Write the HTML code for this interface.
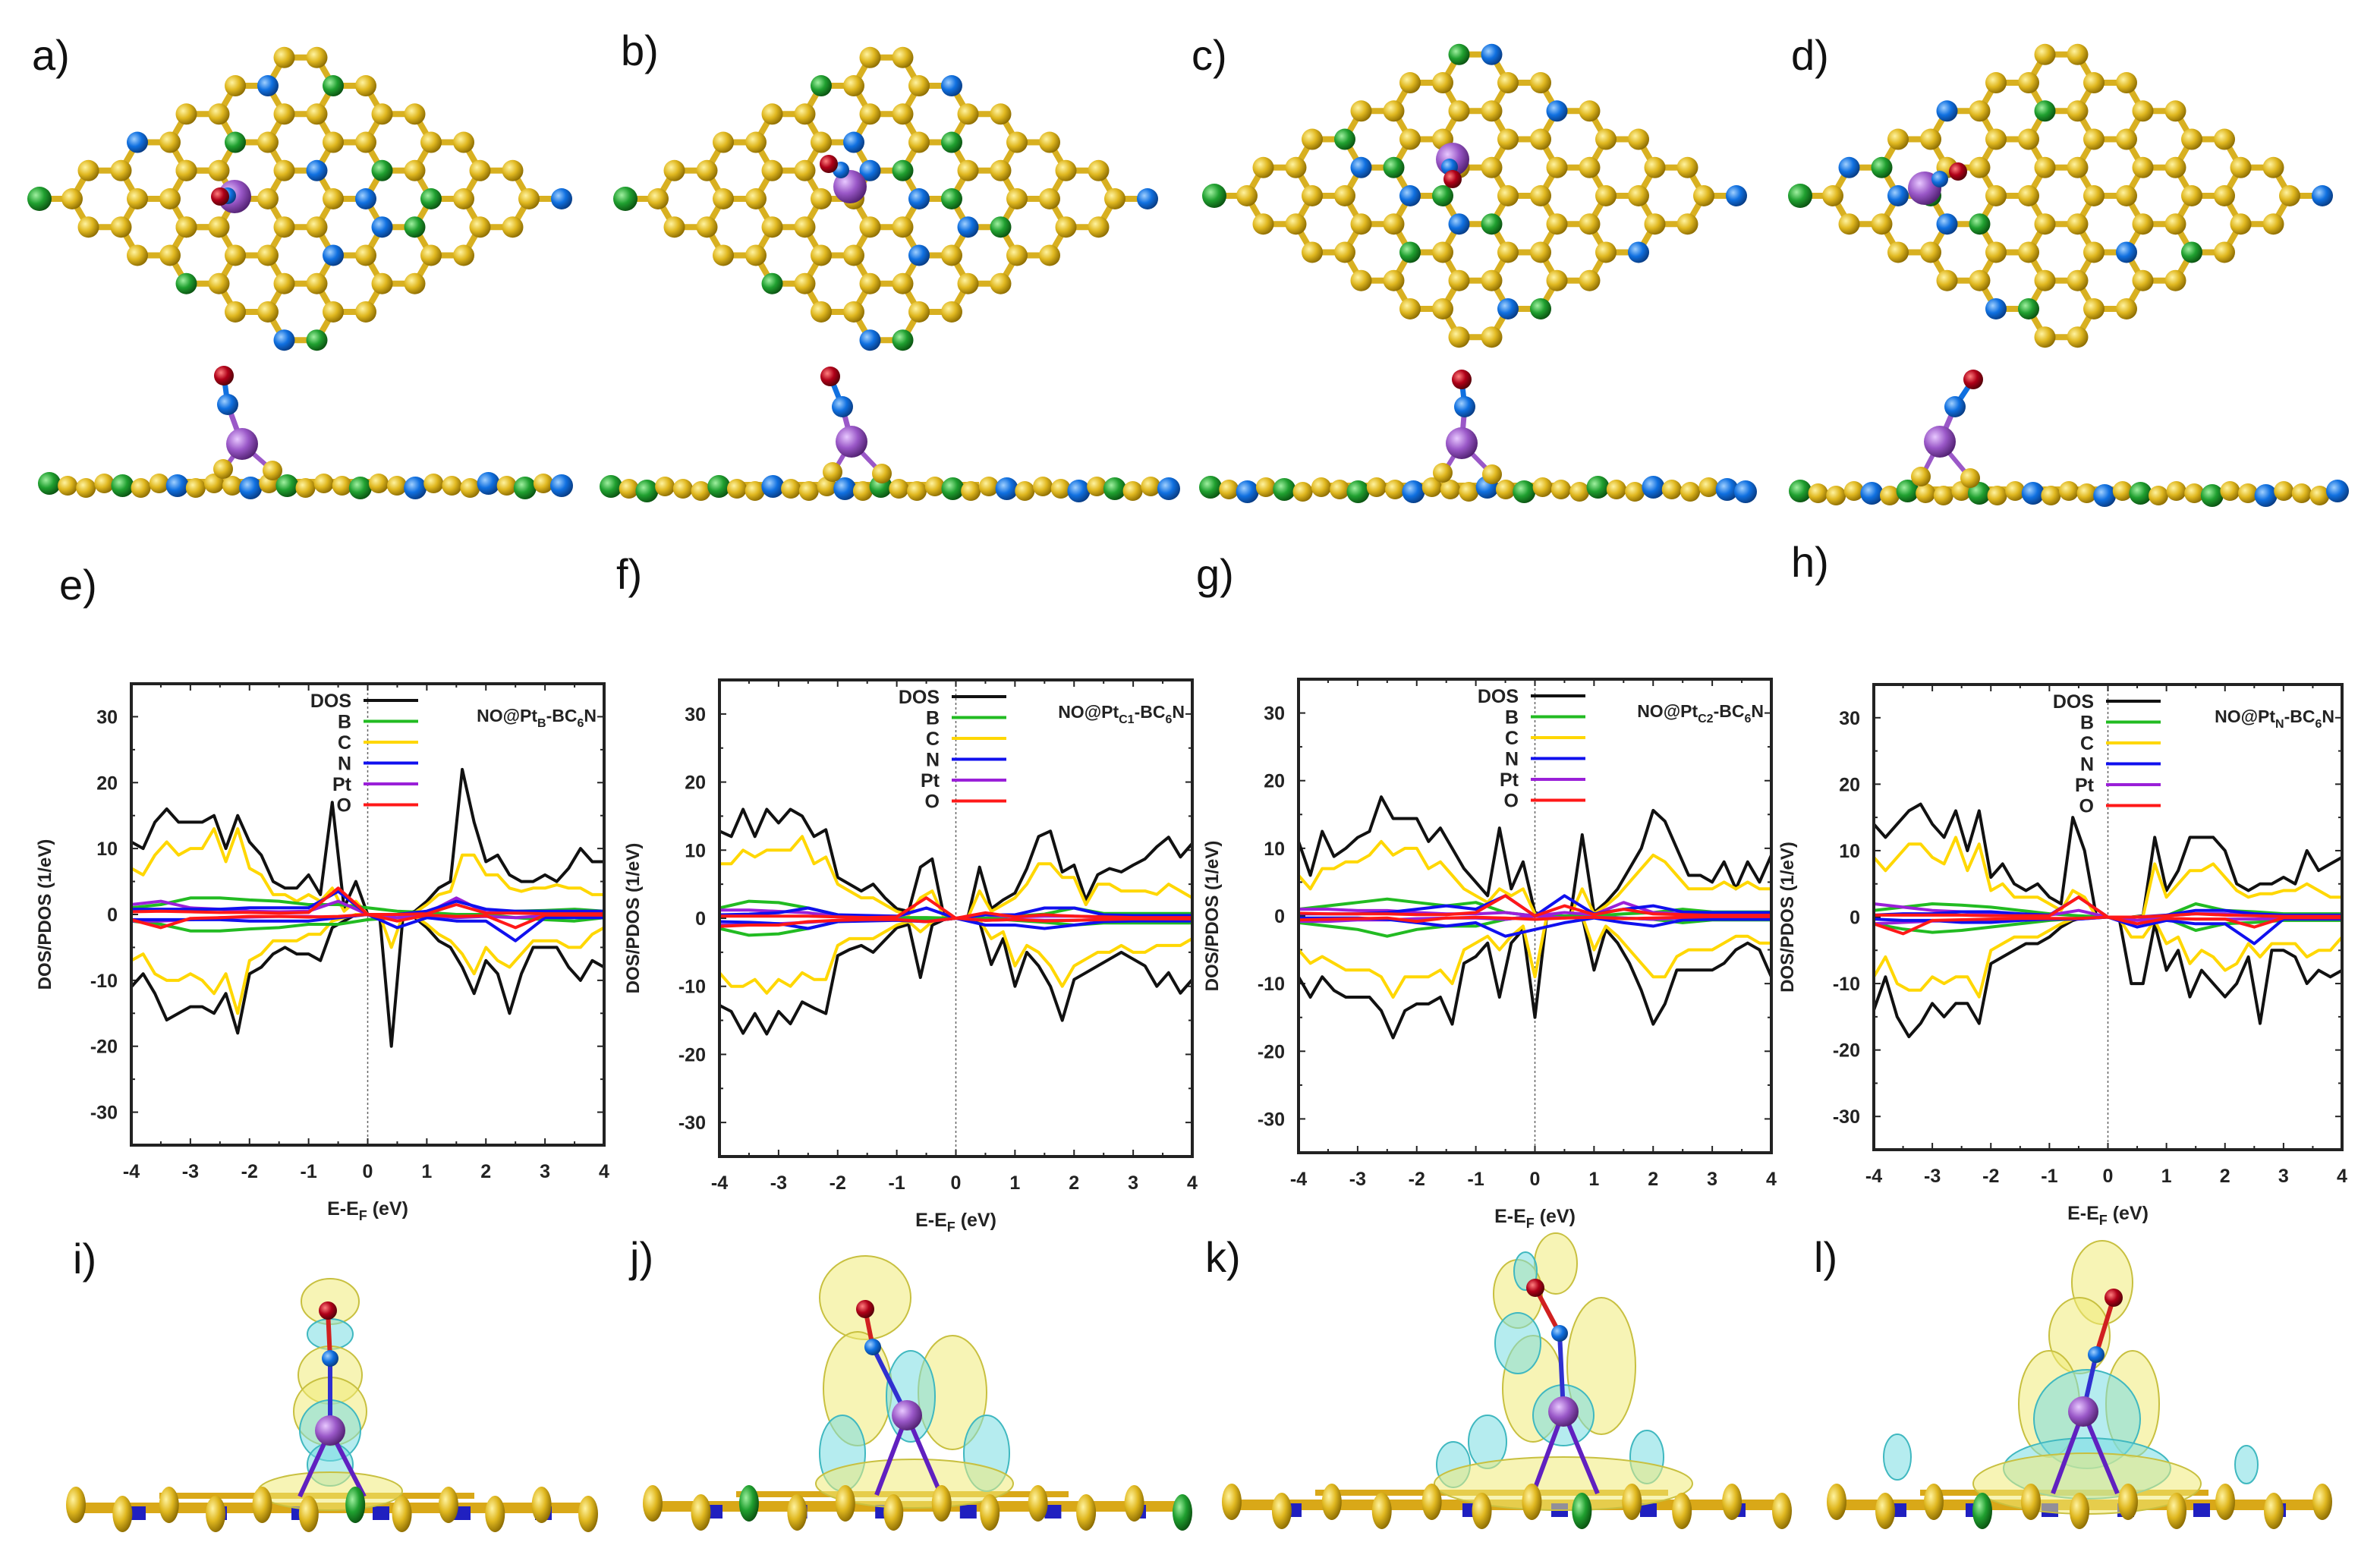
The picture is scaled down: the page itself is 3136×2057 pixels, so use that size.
<!DOCTYPE html>
<html><head><meta charset="utf-8"><style>
html,body{margin:0;padding:0;background:#fff;}
svg{display:block;font-family:"Liberation Sans",sans-serif;}
</style></head>
<body>
<svg id="fig" width="3136" height="2057" viewBox="0 0 3136 2057" xmlns="http://www.w3.org/2000/svg">
<defs>
<radialGradient id="gY" cx="0.35" cy="0.35" r="0.7"><stop offset="0" stop-color="#fff3a0"/><stop offset="0.5" stop-color="#e0b820"/><stop offset="1" stop-color="#8a6a00"/></radialGradient>
<radialGradient id="gG" cx="0.35" cy="0.35" r="0.7"><stop offset="0" stop-color="#a0f0a0"/><stop offset="0.5" stop-color="#20a030"/><stop offset="1" stop-color="#0a5010"/></radialGradient>
<radialGradient id="gB" cx="0.35" cy="0.35" r="0.7"><stop offset="0" stop-color="#a0d0ff"/><stop offset="0.5" stop-color="#1070e0"/><stop offset="1" stop-color="#083a80"/></radialGradient>
<radialGradient id="gP" cx="0.35" cy="0.35" r="0.7"><stop offset="0" stop-color="#e8c8ff"/><stop offset="0.5" stop-color="#9a58c8"/><stop offset="1" stop-color="#502070"/></radialGradient>
<radialGradient id="gR" cx="0.35" cy="0.35" r="0.7"><stop offset="0" stop-color="#ff8080"/><stop offset="0.5" stop-color="#b00018"/><stop offset="1" stop-color="#500008"/></radialGradient>
</defs>
<g id="structs"></g>
<g id="plots"></g>
<g id="dens"></g>
</svg>
<script>
// ===== DOS data (E grid -4..4 step 0.2, 41 points) =====
const energies = [-4,-3.8,-3.6,-3.4,-3.2,-3,-2.8,-2.6,-2.4,-2.2,-2,-1.8,-1.6,-1.4,-1.2,-1,-0.8,-0.6,-0.4,-0.2,0,0.2,0.4,0.6,0.8,1,1.2,1.4,1.6,1.8,2,2.2,2.4,2.6,2.8,3,3.2,3.4,3.6,3.8,4];
const energiesMinor = [-4,-3.5,-3,-2.5,-2,-1.5,-1,-0.5,0,0.5,1,1.5,2,2.5,3,3.5,4];
const xTicks = [-4,-3,-2,-1,0,1,2,3,4];
const yTicks = [-30,-20,-10,0,10,20,30];
const legendNames = ["DOS","B","C","N","Pt","O"];
const panelTitles = ["B","C1","C2","N"];

// panel e
const eDosUp = [11,10,14,16,14,14,14,15,10,15,11,9,5,4,4,6,3,17,1,5,0,0,0,0,0.5,2,4,5,22,14,8,9,6,5,5,6,5,7,10,8,8];
const eDosDn = [-11,-9,-12,-16,-15,-14,-14,-15,-12,-18,-9,-8,-6,-5,-6,-6,-7,-2,-1,0,0,0,-20,0,-0.5,-2,-4,-5,-8,-12,-7,-9,-15,-9,-5,-5,-5,-8,-10,-7,-8];
const eCUp = [7,6,9,11,9,10,10,13,8,13,7,6,3,3,2,3,2,4,0.5,2,0,0,0,0,0.3,1.5,3,3.5,9,9,6,6,4,3.5,4,4,4.5,4,4,3,3];
const eCDn = [-7,-6,-9,-10,-10,-9,-10,-12,-9,-15,-7,-6,-4,-4,-4,-3,-3,-1,-0.5,0,0,0,-5,0,-0.3,-1.5,-3,-4,-6,-9,-5,-7,-8,-6,-4,-4,-4,-5,-5,-3,-2];
const eBUp = [1,1.5,2.5,2.5,2.2,2,1.5,1.5,1,0.5,0.3,0,0,0.5,0.6,0.8,0.5,0.3,0.5];
const eBDn = [-1,-1.5,-2.5,-2.5,-2.2,-2,-1.5,-1.5,-0.8,-0.5,-0.3,0,0,-0.5,-0.8,-1,-0.5,-0.3,-0.5];
const eNUp = [0.8,0.8,0.8,0.8,1,1,1,3.5,0,0,0.5,2,0.8,0.5,0.5,0.5,0.5];
const eNDn = [-0.8,-0.8,-0.8,-0.8,-1,-1,-1,-0.5,0,-2,-0.5,-1,-1,-4,-0.5,-0.5,-0.5];
const ePtUp = [1.5,2,1,0.8,0.5,0.4,0.5,2,0,0,0.2,2.5,0.3,0.2,0.2,0.2,0.2];
const ePtDn = [-1,-1,-0.8,-0.5,-0.4,-0.3,-0.3,-0.5,0,-0.5,-0.2,-0.5,-0.3,-0.5,-0.2,-0.2,-0.2];
const eOUp = [0.4,0.5,0.4,0.3,0.3,0.2,0.3,4,0,0,0.1,1.5,0.2,0.2,0.1,0.1,0.1];
const eODn = [-0.8,-2,-0.6,-0.5,-0.3,-0.3,-0.4,-0.3,0,-1,-0.1,-0.3,-0.2,-2,-0.1,-0.1,-0.1];

// panel f
const fDosUp = [12.8,12,16,12,16,14,16,15,12,13,6,5,4,5,3,1.4,1,7.5,8.7,0.2,0,0,7.5,1.4,2.7,3.7,7.3,12,12.8,6.8,7.8,2.7,6.4,7.3,6.8,7.8,8.7,10.5,11.9,9,11];
const fDosDn = [-12.8,-13.7,-16.9,-14,-17,-13.7,-15.5,-12.3,-13.2,-14,-5.5,-4.6,-4,-5,-3.2,-1.4,-0.9,-8.7,-1,-0.2,0,0,-0.5,-6.8,-3,-10,-5,-7,-10,-15,-9,-8,-7,-6,-5,-6,-7,-10,-8,-11,-9];
const fCUp = [8,8,10,9,10,10,10,12,8,9,5,4,3,3,2,1,0.5,3,4,0.1,0,0,4,1,2,3,5,8,8,6,6,2,5,5,4,4,4,3.5,5,4,3];
const fCDn = [-8,-10,-10,-9,-11,-9,-10,-8,-9,-9,-4,-3,-3,-3,-2,-1,-0.5,-2,-0.5,0,0,0,-0.3,-3,-2,-7,-4,-5,-7,-10,-7,-6,-5,-5,-4,-5,-5,-4,-4,-4,-3];
const fBUp = [1.5,2.5,2.3,1.5,0.5,0.2,0.1,0.1,0,0,0.3,0.6,1.5,0.7,0.7,0.7,0.7];
const fBDn = [-1.5,-2.5,-2.3,-1.5,-0.5,-0.2,-0.1,-0.1,0,0,-0.3,-0.6,-1,-0.7,-0.7,-0.7,-0.7];
const fNUp = [0.5,0.6,0.8,1.5,0.5,0.4,0.3,1.5,0,0.5,0.5,1.5,1.5,0.5,0.4,0.4,0.4];
const fNDn = [-0.5,-0.6,-0.8,-1.5,-0.5,-0.4,-0.3,-0.5,0,-1,-1,-1.5,-1,-0.5,-0.4,-0.4,-0.4];
const fPtUp = [1.2,1.2,1,0.8,0.3,0.2,0.2,1.5,0,0.5,0.2,0.3,0.3,0.2,0.2,0.2,0.2];
const fPtDn = [-1,-1,-0.8,-0.6,-0.3,-0.2,-0.2,-0.5,0,-0.3,-0.2,-0.3,-0.3,-0.2,-0.2,-0.2,-0.2];
const fOUp = [0.3,0.3,0.3,0.3,0.2,0.1,0.2,3,0,0.8,0.2,0.5,0.3,0.2,0.1,0.1,0.1];
const fODn = [-1.2,-1,-1,-0.5,-0.3,-0.2,-0.2,-0.5,0,-0.3,-0.2,-0.4,-0.3,-0.2,-0.1,-0.1,-0.1];

// panel g
const gDosUp = [11,6,12.5,8.8,10,11.6,12.5,17.6,14.4,14.4,14.4,11,13,10,7,5,3,13,4,8,0.5,0,0,0,12,0.5,2,4,7,10,15.6,14,10,6,6,5,8,4,8,5,9];
const gDosDn = [-9,-12,-9,-11,-12,-12,-12,-14,-18,-14,-13,-13,-12,-16,-7,-6,-4,-12,-4,-2,-15,0,0,0,0,-8,-2,-4,-7,-11,-16,-13,-8,-8,-8,-8,-7,-5,-4,-5,-9];
const gCUp = [6,4,7,7,8,8,9,11,9,10,10,7,8,6,4,3,2,4,3,4,0.3,0,0,0,4,0.3,1.5,3,5,7,9,8,6,4,4,4,5,4,5,4,4];
const gCDn = [-5,-7,-6,-7,-8,-8,-8,-9,-12,-9,-9,-9,-8,-10,-5,-4,-3,-5,-3,-1.5,-9,0,0,0,0,-5,-1.5,-3,-5,-7,-9,-9,-6,-5,-5,-5,-4,-3,-3,-4,-4];
const gBUp = [1,1.5,2,2.5,2,1.5,2,0.5,0,0,0,0.3,0.5,1,0.6,0.6,0.6];
const gBDn = [-1,-1.5,-2,-3,-2,-1.5,-1.5,-0.5,0,0,0,-0.3,-0.5,-1,-0.6,-0.6,-0.6];
const gNUp = [0.3,0.3,0.3,0.5,1,1.5,1,3,0,3,0.3,1,1.5,0.6,0.5,0.5,0.5];
const gNDn = [-0.3,-0.3,-0.3,-0.5,-1,-1.5,-1,-3,-2,-1,-0.3,-1,-1.5,-0.6,-0.5,-0.5,-0.5];
const gPtUp = [1,1,0.8,0.8,0.5,0.3,0.3,0.5,0,0.5,0.2,2,0.5,0.3,0.2,0.2,0.2];
const gPtDn = [-0.8,-0.8,-0.6,-0.6,-0.4,-0.3,-0.3,-0.5,0,-0.3,-0.2,-0.3,-0.5,-0.3,-0.2,-0.2,-0.2];
const gOUp = [0.4,0.3,0.3,0.3,0.2,0.2,0.5,3,0,1.5,0.2,1,0.3,0.2,0.1,0.1,0.1];
const gODn = [-0.6,-0.5,-0.4,-0.3,-0.8,-0.3,-0.2,-0.3,-0.5,-0.3,-0.2,-0.4,-0.3,-0.2,-0.1,-0.1,-0.1];

// panel h
const hDosUp = [14,12,14,16,17,14,12,16,10,16,6,8,5,4,5,3,2,15,10,0.2,0,0,0,0.2,12,4,7,12,12,12,10,5,4,5,5,6,5,10,7,8,9];
const hDosDn = [-14,-9,-15,-18,-16,-13,-15,-13,-13,-16,-7,-6,-5,-4,-4,-3,-1.5,-0.5,0,0,0,-0.5,-10,-10,-1,-8,-5,-12,-8,-10,-12,-10,-6,-16,-5,-5,-6,-10,-8,-9,-8];
const hCUp = [9,7,9,11,11,9,8,12,7,11,4,5,3,3,3,2,1,4,3,0.1,0,0,0,0.1,8,3,5,7,7,8,6,4,3,3.5,3.5,4,4,5,4,3,3];
const hCDn = [-9,-6,-10,-11,-11,-9,-10,-9,-9,-12,-5,-4,-3,-3,-3,-2,-1,-0.3,0,0,0,-0.3,-3,-3,-0.5,-4,-3,-7,-5,-6,-8,-7,-4,-6,-4,-4,-4,-6,-5,-5,-3];
const hBUp = [1,1.5,2,1.8,1.5,1,0.5,0.2,0,0,0.2,2,1,0.8,0.5,0.5,0.5];
const hBDn = [-1,-1.8,-2.3,-2,-1.5,-1,-0.5,-0.2,0,0,-0.2,-2,-1,-0.8,-0.5,-0.5,-0.5];
const hNUp = [0.3,0.5,0.5,0.8,0.8,0.5,0.3,3,0,0,0.3,1,1,0.5,0.3,0.3,0.3];
const hNDn = [-0.3,-0.5,-0.5,-0.8,-0.8,-0.5,-0.3,-0.3,0,-1.5,-0.5,-1,-1,-4,-0.3,-0.3,-0.3];
const hPtUp = [2,1.5,1,0.8,0.5,0.3,0.3,1,0,0,0.2,0.5,0.5,0.3,0.2,0.2,0.2];
const hPtDn = [-1,-0.8,-0.6,-0.5,-0.4,-0.3,-0.3,-0.3,0,-0.5,-0.2,-0.3,-0.3,-0.3,-0.2,-0.2,-0.2];
const hOUp = [0.3,0.3,0.3,0.3,0.2,0.2,0.2,3,0,0,0.2,0.5,0.3,0.2,0.1,0.1,0.1];
const hODn = [-1,-2.5,-0.5,-0.4,-0.3,-0.2,-0.2,-0.2,0,-1,-0.2,-0.3,-0.3,-1.5,-0.1,-0.1,-0.1];

const panels = [
 {box:[173,901,796,1509], dos:[eDosUp,eDosDn], c:[eCUp,eCDn], b:[eBUp,eBDn], n:[eNUp,eNDn], pt:[ePtUp,ePtDn], o:[eOUp,eODn]},
 {box:[948,896,1571,1524], dos:[fDosUp,fDosDn], c:[fCUp,fCDn], b:[fBUp,fBDn], n:[fNUp,fNDn], pt:[fPtUp,fPtDn], o:[fOUp,fODn]},
 {box:[1711,895,2334,1519], dos:[gDosUp,gDosDn], c:[gCUp,gCDn], b:[gBUp,gBDn], n:[gNUp,gNDn], pt:[gPtUp,gPtDn], o:[gOUp,gODn]},
 {box:[2469,902,3086,1515], dos:[hDosUp,hDosDn], c:[hCUp,hCDn], b:[hBUp,hBDn], n:[hNUp,hNDn], pt:[hPtUp,hPtDn], o:[hOUp,hODn]}
];
const panelLetters = ["e)","f)","g)","h)"];

const NS="http://www.w3.org/2000/svg";
function mk(tag, attrs, parent){const e=document.createElementNS(NS,tag);for(const k in attrs)e.setAttribute(k,attrs[k]);parent.appendChild(e);return e;}

// ===== DOS plots =====
const plotsG=document.getElementById('plots');
const seriesColors={dos:"#111",b:"#22bb22",c:"#ffd700",n:"#1010ee",pt:"#9a20d8",o:"#ff1818"};
panels.forEach((p,pi)=>{
  const [L,T,R,B]=p.box;
  const g=mk('g',{},plotsG);
  
  
  const xs=v=>L+(v+4)/8*(R-L);
  const ys=v=>T+(35-v)/70*(B-T);
  // zero line
  const zl=mk('line',{x1:xs(0),x2:xs(0),y1:T,y2:B,stroke:"#666","stroke-width":1.5,"stroke-dasharray":"3,3"},g);
  
  
  // ticks
  for(let v=-35;v<=35;v+=5){const y=ys(v);const len=(v%10===0)?9:5;
    mk('line',{x1:L,x2:L+len,y1:y,y2:y,stroke:"#222","stroke-width":2},g);
    mk('line',{x1:R,x2:R-len,y1:y,y2:y,stroke:"#222","stroke-width":2},g);}
  for(let v=-4;v<=4;v+=0.5){const x=xs(v);const len=(Math.abs(v%1)<1e-6)?9:5;
    mk('line',{x1:x,x2:x,y1:B,y2:B-len,stroke:"#222","stroke-width":2},g);
    mk('line',{x1:x,x2:x,y1:T,y2:T+len,stroke:"#222","stroke-width":2},g);}
  yTicks.forEach(v=>{const t=mk('text',{x:L-18,y:ys(v)+9,"text-anchor":"end","font-size":25,"font-weight":"bold",fill:"#222"},g);t.textContent=v;
    
    });
  xTicks.forEach(v=>{const t=mk('text',{x:xs(v),y:B+43,"text-anchor":"middle","font-size":25,"font-weight":"bold",fill:"#222"},g);t.textContent=v;
    
    });
  // axis titles
  const yt=mk('text',{x:0,y:0,transform:`translate(${L-106},${(T+B)/2}) rotate(-90)`,"text-anchor":"middle","font-size":24,"font-weight":"bold",fill:"#222"},g);
  yt.textContent="DOS/PDOS (1/eV)";
  
  
  const xt=mk('text',{x:(L+R)/2,y:B+92,"text-anchor":"middle","font-size":25,"font-weight":"bold",fill:"#222"},g);
  xt.innerHTML='E-E<tspan font-size="18" dy="7">F</tspan><tspan dy="-7"> (eV)</tspan>';
  
  
  // series
  const drawLine=(xsArr,vals,col,name)=>{
    let d='';vals.forEach((v,i)=>{d+=(i?'L':'M')+xs(xsArr[i]).toFixed(1)+','+ys(v).toFixed(1);});
    const pl=mk('path',{d:d,fill:"none",stroke:col,"stroke-width":4,"stroke-linejoin":"round"},g);
    
    
  };
  drawLine(energies,p.dos[0],seriesColors.dos,'dos-up-line');
  drawLine(energies,p.dos[1],seriesColors.dos,'dos-down-line');
  drawLine(energies,p.c[0],seriesColors.c,'c-pdos-up-line');
  drawLine(energies,p.c[1],seriesColors.c,'c-pdos-down-line');
  drawLine(energiesMinor,p.b[0],seriesColors.b,'b-pdos-up-line');
  drawLine(energiesMinor,p.b[1],seriesColors.b,'b-pdos-down-line');
  drawLine(energiesMinor,p.pt[0],seriesColors.pt,'pt-pdos-up-line');
  drawLine(energiesMinor,p.pt[1],seriesColors.pt,'pt-pdos-down-line');
  drawLine(energiesMinor,p.n[0],seriesColors.n,'n-pdos-up-line');
  drawLine(energiesMinor,p.n[1],seriesColors.n,'n-pdos-down-line');
  drawLine(energiesMinor,p.o[0],seriesColors.o,'o-pdos-up-line');
  drawLine(energiesMinor,p.o[1],seriesColors.o,'o-pdos-down-line');
  // frame
  const fr=mk('rect',{x:L,y:T,width:R-L,height:B-T,fill:"none",stroke:"#222","stroke-width":4},g);
  
  
  // legend
  const cols=[seriesColors.dos,seriesColors.b,seriesColors.c,seriesColors.n,seriesColors.pt,seriesColors.o];
  legendNames.forEach((nm,k)=>{
    const y=T+22+k*27.5;
    const t=mk('text',{x:L+290,y:y+9,"text-anchor":"end","font-size":25,"font-weight":"bold",fill:"#222"},g);t.textContent=nm;
    
    
    const ln=mk('line',{x1:L+306,x2:L+378,y1:y,y2:y,stroke:cols[k],"stroke-width":4},g);
    
    
  });
  const an=mk('text',{x:R-10,y:T+50,"text-anchor":"end","font-size":23,"font-weight":"bold",fill:"#222"},g);
  an.innerHTML='NO@Pt<tspan font-size="16" dy="7">'+panelTitles[pi]+'</tspan><tspan dy="-7">-BC</tspan><tspan font-size="16" dy="7">6</tspan><tspan dy="-7">N</tspan>';
  
  
});

// ===== Structures =====
const sg=document.getElementById('structs');
const grad={Y:"url(#gY)",G:"url(#gG)",B:"url(#gB)",P:"url(#gP)",R:"url(#gR)"};
const bondCol={Y:"#d8b020",G:"#20a030",B:"#1070e0",P:"#9a58c8",R:"#b00018"};
function atom(g,x,y,r,c,name){const a=mk('circle',{cx:x,cy:y,r:r,fill:grad[c]},g);return a;}
function lattice(cx,cy,seed,name){
  const g=mk('g',{},sg);
  
  
  const a=43,h=Math.sqrt(3)/2*a;const pts={};const edges={};
  const key=(x,y)=>Math.round(x)+'_'+Math.round(y);
  for(let i=0;i<5;i++)for(let j=0;j<5;j++){
    const hx=cx+1.5*a*(i+j)-6*a, hy=cy+h*(i-j);
    const vs=[];for(let k=0;k<6;k++){const ang=k*Math.PI/3;vs.push([hx+a*Math.cos(ang),hy+a*Math.sin(ang)]);}
    vs.forEach(v=>pts[key(v[0],v[1])]=v);
    for(let k=0;k<6;k++){const p1=vs[k],p2=vs[(k+1)%6];const kk=[key(p1[0],p1[1]),key(p2[0],p2[1])].sort().join('|');edges[kk]=[p1,p2];}
  }
  const arr=Object.values(pts).sort((p,q)=>p[1]-q[1]||p[0]-q[0]);
  const lt=[cx-8*a,cy], rt=[cx+8*a,cy];
  const colorOf=(i)=>{const m=(i*7+seed)%11;return m===3?'G':(m===7?'B':'Y');};
  const cmap={};arr.forEach((p,i)=>cmap[key(p[0],p[1])]=colorOf(i));
  Object.values(edges).forEach(e=>{mk('line',{x1:e[0][0],y1:e[0][1],x2:e[1][0],y2:e[1][1],stroke:"#d8b020","stroke-width":8},g);});
  mk('line',{x1:lt[0],y1:lt[1],x2:lt[0]+a,y2:lt[1],stroke:"#d8b020","stroke-width":8},g);
  mk('line',{x1:rt[0],y1:rt[1],x2:rt[0]-a,y2:rt[1],stroke:"#d8b020","stroke-width":8},g);
  arr.forEach(p=>atom(g,p[0],p[1],14,cmap[key(p[0],p[1])]));
  atom(g,lt[0],lt[1],16,'G');atom(g,rt[0],rt[1],14,'B');
  return g;
}
function side(x0,x1,y,seed,pt,n,o,name){
  const g=mk('g',{},sg);
  
  
  mk('line',{x1:x0,y1:y,x2:x1,y2:y,stroke:"#d8b020","stroke-width":8},g);
  mk('line',{x1:x0+150,y1:y-6,x2:x1-250,y2:y-6,stroke:"#d8b020","stroke-width":6},g);
  mk('line',{x1:pt[0],y1:pt[1],x2:pt[0]-25,y2:y-20,stroke:bondCol.P,"stroke-width":6},g);
  mk('line',{x1:pt[0],y1:pt[1],x2:pt[0]+40,y2:y-20,stroke:bondCol.P,"stroke-width":6},g);
  mk('line',{x1:pt[0],y1:pt[1],x2:n[0],y2:n[1],stroke:bondCol.P,"stroke-width":7},g);
  mk('line',{x1:n[0],y1:n[1],x2:o[0],y2:o[1],stroke:bondCol.B,"stroke-width":7},g);
  const N=Math.round((x1-x0)/24);
  for(let i=0;i<=N;i++){const x=x0+i*(x1-x0)/N;const m=(i*5+seed)%13;const c=i===0?'G':(i===N?'B':(m===2||m===9?'G':(m===5||m===11?'B':'Y')));
    atom(g,x,y+((i%3)-1)*3,c==='Y'?13:15,c);}
  atom(g,pt[0]-25,y-22,13,'Y');atom(g,pt[0]+40,y-20,13,'Y');
  atom(g,pt[0],pt[1],21,'P','pt-atom');atom(g,n[0],n[1],14,'B','n-atom');atom(g,o[0],o[1],13,'R','o-atom');
}
const topCenters=[[396,262],[1168,262],[1944,258],[2716,258]];
const adsorb=[[[309,259],[300,258],[290,259]],[[1120,246],[1108,224],[1092,216]],[[1914,210],[1910,220],[1914,236]],[[2536,248],[2556,236],[2580,226]]];
topCenters.forEach((c,i)=>{
  lattice(c[0],c[1],i*3+1,'top-view-structure-'+'abcd'[i]);
  const ad=adsorb[i];const g=mk('g',{},sg);
  
  
  atom(g,ad[0][0],ad[0][1],22,'P');atom(g,ad[1][0],ad[1][1],11,'B');atom(g,ad[2][0],ad[2][1],12,'R');
});
side(65,740,640,2,[319,585],[300,533],[295,495],'side-view-a');
side(805,1540,644,5,[1122,582],[1110,536],[1094,496],'side-view-b');
side(1595,2300,645,8,[1926,584],[1930,536],[1926,500],'side-view-c');
side(2372,3080,650,11,[2556,582],[2576,536],[2600,500],'side-view-d');

// ===== Charge density panels =====
const dg=document.getElementById('dens');
function densPanel(x0,x1,y,blobs,o,n,pt,seed,name){
  const g=mk('g',{},dg);
  
  
  mk('rect',{x:x0,y:y-7,width:x1-x0,height:14,fill:"#d9a818"},g);
  mk('rect',{x:x0+120,y:y-20,width:x1-x0-280,height:8,fill:"#d9a818"},g);
  for(let i=0;i<6;i++)mk('rect',{x:x0+80+i*(x1-x0-160)/5,y:y-2,width:22,height:18,fill:"#2020c0"},g);
  blobs.forEach(b=>{const col=b[4]==='y'?"rgba(240,235,120,0.55)":"rgba(120,220,225,0.55)";const st=b[4]==='y'?"#c8c040":"#40b8c0";
    mk('ellipse',{cx:b[0],cy:b[1],rx:b[2],ry:b[3],fill:col,stroke:st,"stroke-width":2},g);});
  mk('line',{x1:pt[0],y1:pt[1],x2:n[0],y2:n[1],stroke:"#3030d0","stroke-width":6},g);
  mk('line',{x1:n[0],y1:n[1],x2:o[0],y2:o[1],stroke:"#d02020","stroke-width":6},g);
  mk('line',{x1:pt[0],y1:pt[1],x2:pt[0]-40,y2:y-15,stroke:"#6020c0","stroke-width":6},g);
  mk('line',{x1:pt[0],y1:pt[1],x2:pt[0]+45,y2:y-15,stroke:"#6020c0","stroke-width":6},g);
  const N=Math.round((x1-x0)/66);
  for(let i=0;i<=N;i++){const x=x0+10+i*(x1-x0-20)/N;const m=(i*5+seed)%9;
    mk('ellipse',{cx:x,cy:y+((i%2)?8:-4),rx:13,ry:24,fill:m===4?"url(#gG)":"url(#gY)"},g);}
  atom(g,pt[0],pt[1],20,'P');atom(g,n[0],n[1],11,'B');atom(g,o[0],o[1],12,'R');
}
densPanel(90,785,1987,[[435,1715,38,30,'y'],[435,1758,30,20,'c'],[435,1812,42,38,'y'],[435,1860,48,45,'y'],[435,1885,40,40,'c'],[435,1930,30,28,'c'],[435,1965,95,25,'y']],[432,1727],[435,1790],[435,1885],1,'charge-density-i');
densPanel(850,1568,1985,[[1140,1710,60,55,'y'],[1130,1830,45,75,'y'],[1255,1835,45,75,'y'],[1200,1840,32,60,'c'],[1110,1915,30,50,'c'],[1300,1915,30,50,'c'],[1205,1955,130,32,'y']],[1140,1725],[1150,1775],[1195,1865],3,'charge-density-j');
densPanel(1613,2358,1983,[[2050,1665,28,40,'y'],[2000,1705,32,45,'y'],[2010,1675,15,25,'c'],[2110,1800,45,90,'y'],[2020,1830,40,70,'y'],[2000,1770,30,40,'c'],[2060,1865,40,40,'c'],[1960,1900,25,35,'c'],[1915,1930,22,30,'c'],[2170,1920,22,35,'c'],[2060,1955,170,35,'y']],[2023,1697],[2055,1757],[2060,1860],5,'charge-density-k');
densPanel(2410,3070,1983,[[2770,1690,40,55,'y'],[2740,1760,40,50,'y'],[2700,1850,40,70,'y'],[2810,1850,35,70,'y'],[2750,1870,70,65,'c'],[2750,1935,110,40,'c'],[2750,1955,150,40,'y'],[2500,1920,18,30,'c'],[2960,1930,15,25,'c']],[2785,1710],[2762,1785],[2745,1860],7,'charge-density-l');

// ===== Panel letters =====
const labels=[["a)",42,92],["b)",818,86],["c)",1570,92],["d)",2360,92],["e)",78,790],["f)",812,776],["g)",1576,776],["h)",2360,760],["i)",96,1678],["j)",830,1676],["k)",1588,1676],["l)",2390,1676]];
labels.forEach(l=>{const t=mk('text',{x:l[1],y:l[2],"font-size":56,fill:"#111"},document.getElementById('fig'));t.textContent=l[0];
  
  });
</script>
</body></html>
